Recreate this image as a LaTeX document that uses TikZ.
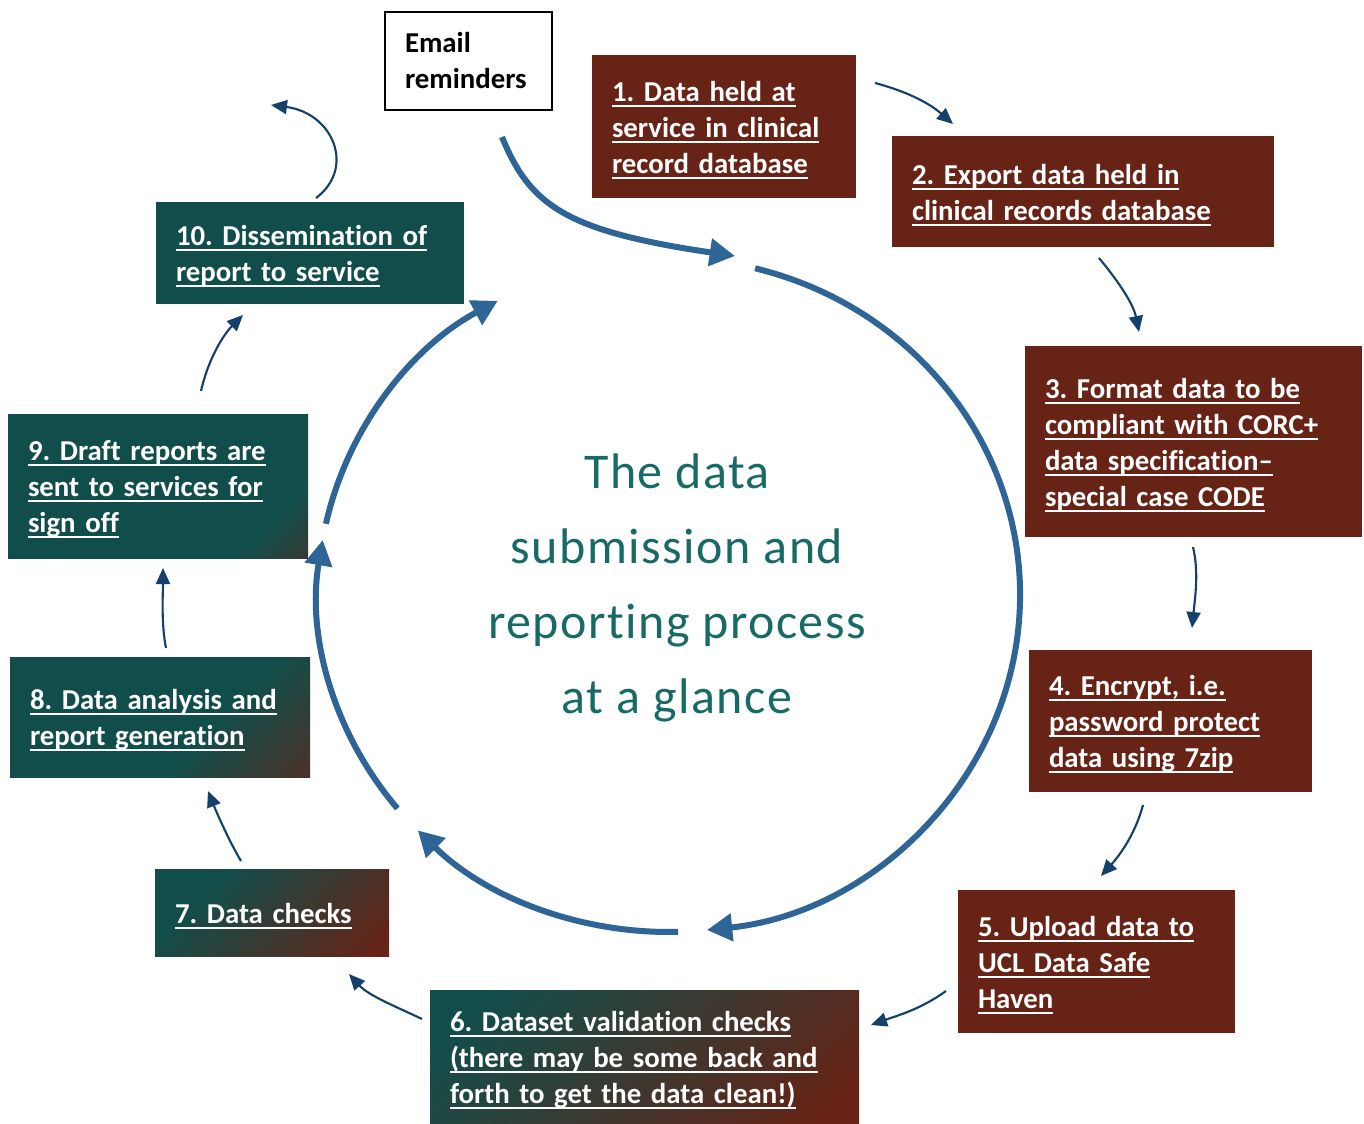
\documentclass[tikz,border=0pt]{standalone}
\usepackage{fontspec}
\setmainfont[Ligatures=NoCommon]{Carlito}
\newfontfamily\titlefont[LetterSpace=3,Ligatures=NoCommon]{Carlito}
\usetikzlibrary{arrows.meta,calc}
\frenchspacing
\definecolor{brownc}{RGB}{102,35,22}
\definecolor{tealc}{RGB}{17,78,75}
\definecolor{bluec}{RGB}{46,100,150}
\definecolor{darkb}{RGB}{20,64,108}
\definecolor{titlec}{RGB}{24,106,101}
\pgfdeclarehorizontalshading{tbsix}{100bp}{color(0bp)=(tealc); color(22bp)=(tealc); color(80bp)=(brownc); color(100bp)=(brownc)}
\pgfdeclarehorizontalshading{tbseven}{100bp}{color(0bp)=(tealc); color(30bp)=(tealc); color(82bp)=(brownc); color(100bp)=(brownc)}
\pgfdeclarehorizontalshading{tbeight}{100bp}{color(0bp)=(tealc); color(60bp)=(tealc); color(98bp)=(brownc); color(100bp)=(brownc)}
\pgfdeclarehorizontalshading{tbnine}{100bp}{color(0bp)=(tealc); color(74bp)=(tealc); color(100bp)=(brownc)}
\newcommand\myul[1]{\leavevmode{\setbox0=\hbox{#1}\rlap{\rule[-4pt]{\wd0}{1.5pt}}\box0}}
\newcommand\boxfont{\bfseries\fontsize{21.6}{27}\selectfont\fontdimen2\font=3.6pt\relax}
\begin{document}
\begin{tikzpicture}[x=0.75pt,y=-0.75pt,
  stepbox/.style={inner xsep=15pt, inner ysep=0pt, align=left, font=\boxfont, text=white, anchor=center},
  colbox/.style={stepbox, execute at begin node={\rule{0pt}{20pt}}},
  brownbox/.style={colbox, fill=brownc},
  tealbox/.style={colbox, fill=tealc},
  gradbox/.style={colbox, shade, shading=#1, shading angle=-45},
  mailbox/.style={stepbox, draw=black, line width=1.5pt, text=black, fill=white},
  bigarrow/.style={draw=bluec, line width=4.5pt, -{Triangle[length=19pt,width=20pt]}},
  smallarrow/.style={draw=darkb, line width=1.6pt, -{Triangle[length=12pt,width=10.5pt]}}
]
\fill[white] (0,0) rectangle (1364,1124);
\useasboundingbox (0,0) rectangle (1364,1124);

% boxes
\node[mailbox, minimum width=125.25pt, minimum height=73.5pt, text width=95.25pt] (mail) at (468.5,61) {Email\\reminders};
\node[brownbox, minimum width=198pt, minimum height=107.25pt, text width=168pt] (b1) at (724,126.5)
  {\myul{1. Data held at}\\\myul{service in clinical}\\\myul{record database}};
\node[brownbox, minimum width=286.5pt, minimum height=83.25pt, text width=256.5pt] (b2) at (1083,191.5)
  {\myul{2. Export data held in}\\\myul{clinical records database}};
\node[brownbox, minimum width=252.75pt, minimum height=143.25pt, text width=222.75pt] (b3) at (1193.5,441.5)
  {\myul{3. Format data to be}\\\myul{compliant with CORC+}\\\myul{data specification–}\\\myul{special case CODE}};
\node[brownbox, minimum width=212.25pt, minimum height=106.5pt, text width=182.25pt] (b4) at (1170.5,721)
  {\myul{4. Encrypt, i.e.}\\\myul{password protect}\\\myul{data using 7zip}};
\node[brownbox, minimum width=207.75pt, minimum height=107.25pt, text width=177.75pt] (b5) at (1096.5,961.5)
  {\myul{5. Upload data to}\\\myul{UCL Data Safe}\\\myul{Haven}};
\node[gradbox=tbsix, minimum width=321.75pt, minimum height=100.5pt, text width=291.75pt] (b6) at (644.5,1057)
  {\myul{6. Dataset validation checks}\\\myul{(there may be some back and}\\\myul{forth to get the data clean!)}};
\node[gradbox=tbseven, minimum width=175.5pt, minimum height=65.25pt, text width=145.5pt] (b7) at (272,912.5)
  {\myul{7. Data checks}};
\node[gradbox=tbeight, minimum width=225pt, minimum height=90pt, text width=195pt] (b8) at (160,717)
  {\myul{8. Data analysis and}\\\myul{report generation}};
\node[gradbox=tbnine, minimum width=225pt, minimum height=108pt, text width=195pt] (b9) at (158,486)
  {\myul{9. Draft reports are}\\\myul{sent to services for}\\\myul{sign off}};
\node[tealbox, minimum width=231pt, minimum height=76.5pt, text width=201pt] (b10) at (310,253)
  {\myul{10. Dissemination of}\\\myul{report to service}};

% title
\node[align=center, text=titlec, font=\titlefont\fontsize{37.5}{56.25}\selectfont] (title) at (677,588)
  {The data\\submission and\\reporting process\\at a glance};

% big cycle arcs
\coordinate (cc) at (669,595);
\coordinate (a1) at ($(cc)+(-75.8:351 and 337)$);
\coordinate (a2) at ($(cc)+(88.5:351 and 337)$);
\coordinate (a3) at ($(cc)+(140.7:351 and 337)$);
\coordinate (a4) at ($(cc)+(192.2:351 and 337)$);
\draw[bigarrow] (a1) arc[start angle=-75.8, end angle=83.8, x radius=351, y radius=337];
\draw[bigarrow] (a2) arc[start angle=88.5, end angle=135.7, x radius=351, y radius=337];
\draw[bigarrow] (a3) arc[start angle=140.7, end angle=189.4, x radius=351, y radius=337];
\draw[bigarrow] (a4) arc[start angle=192.2, end angle=240.8, x radius=351, y radius=337];

% email arrow
\coordinate (e0) at (502,137);
\coordinate (e1) at (735,256);
\draw[bigarrow] (e0) .. controls +(28,68) and +(-170,-25) .. (e1);

% small arrows
\coordinate (s1) at (875,83);   \coordinate (t1) at (953,124);
\coordinate (s2) at (1099,258); \coordinate (t2) at (1139,332);
\coordinate (s3) at (1193,547); \coordinate (t3) at (1192,628);
\coordinate (s4) at (1143,805); \coordinate (t4) at (1101,876);
\coordinate (s5) at (946,991);  \coordinate (t5) at (871,1025);
\coordinate (s6) at (422,1019); \coordinate (t6) at (349,974);
\coordinate (s7) at (241,861);  \coordinate (t7) at (208,791);
\coordinate (s8) at (166,648);  \coordinate (t8) at (163,568);
\coordinate (s9) at (201,391);  \coordinate (t9) at (243,315);
\coordinate (s10) at (316,198); \coordinate (t10) at (271,105);
\draw[smallarrow] (s1) .. controls +(30,8) and +(-25,-22) .. (t1);
\draw[smallarrow] (s2) .. controls +(15,18) and +(-6,-30) .. (t2);
\draw[smallarrow] (s3) .. controls +(6,25) and +(3,-30) .. (t3);
\draw[smallarrow] (s4) .. controls +(-8,30) and +(18,-20) .. (t4);
\draw[smallarrow] (s5) .. controls +(-25,18) and +(28,-10) .. (t5);
\draw[smallarrow] (s6) .. controls +(-25,-12) and +(20,22) .. (t6);
\draw[smallarrow] (s7) .. controls +(-12,-20) and +(8,20) .. (t7);
\draw[smallarrow] (s8) .. controls +(-5,-25) and +(0,25) .. (t8);
\draw[smallarrow] (s9) .. controls +(8,-35) and +(-18,18) .. (t9);
\draw[smallarrow] (s10) .. controls +(40,-30) and +(62,8) .. (t10);
\end{tikzpicture}
\end{document}
